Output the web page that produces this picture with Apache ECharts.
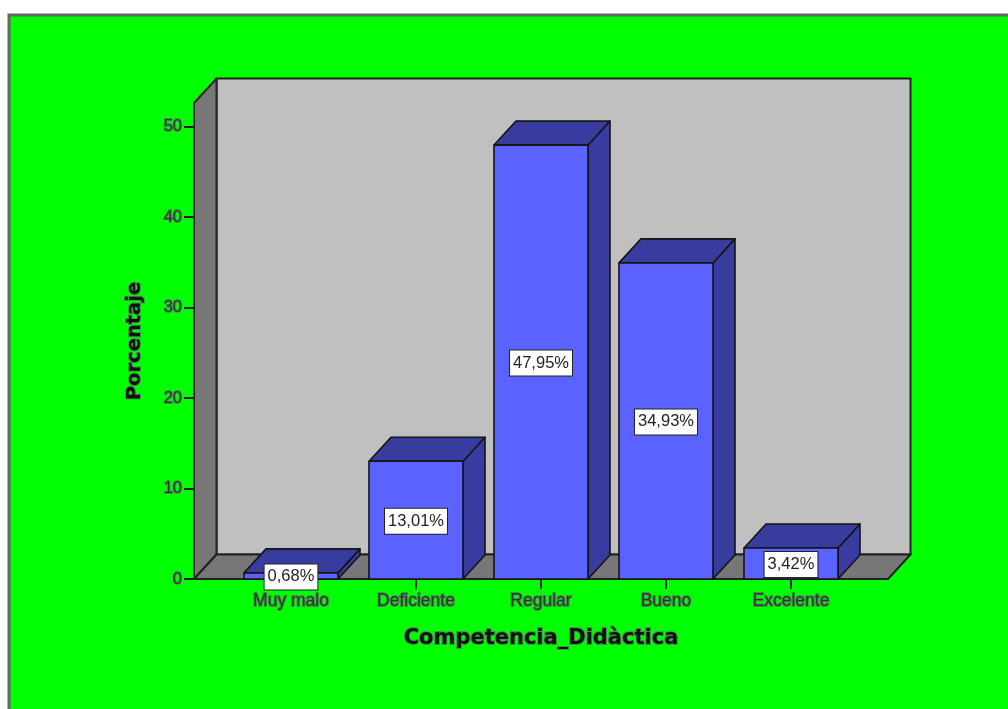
<!DOCTYPE html>
<html><head><meta charset="utf-8">
<style>html,body{margin:0;padding:0;background:#fff}#c{width:1008px;height:709px}</style>
<script src="https://cdn.jsdelivr.net/npm/echarts@6/dist/echarts.min.js"></script>
</head><body><div id="c"></div>
<script>
const categories = ['Muy malo','Deficiente','Regular','Bueno','Excelente'];
const percentages = [0.68,13.01,47.95,34.93,3.42];
const yTicks = [0,10,20,30,40,50];
const yMax = 52.6;
const xName = 'Competencia_Didàctica';
const yName = 'Porcentaje';

const GL = 228.5, GT = 103, GW = 625, GH = 476;
const DX = 22.5, DY = -24.5, PADX = 34.5;
const halo = {textBorderColor:'rgba(95,90,110,0.6)', textBorderWidth:2};
const line = '#222';

const chart = echarts.init(document.getElementById('c'));
chart.setOption({
  animation:false,
  backgroundColor:'#fff',
  graphic:[{type:'rect',z:-10,shape:{x:9,y:15,width:1010,height:710},
    style:{fill:'#00ff00',stroke:'#666',lineWidth:3}}],
  grid:{left:GL,top:GT,width:GW,height:GH},
  xAxis:{type:'category',data:categories,boundaryGap:true,
    name:xName,nameLocation:'middle',nameGap:49,
    nameTextStyle:{fontFamily:'DejaVu Sans',fontWeight:'bold',fontSize:21,color:'#111',...halo},
    axisLine:{show:false},
    axisTick:{show:true,alignWithLabel:true,length:10,lineStyle:{color:line,width:2}},
    axisLabel:{fontFamily:'Liberation Sans',fontSize:17.5,color:'#333',margin:13,interval:0,...halo}},
  yAxis:{type:'value',min:0,max:yMax,interval:10,offset:PADX,
    name:yName,nameLocation:'middle',nameGap:49,nameRotate:90,
    nameTextStyle:{fontFamily:'DejaVu Sans',fontWeight:'bold',fontSize:19.5,color:'#111',...halo},
    splitLine:{show:false},
    axisLine:{show:true,lineStyle:{color:line,width:2}},
    axisTick:{show:true,length:10,customValues:yTicks,lineStyle:{color:line,width:2}},
    axisLabel:{fontFamily:'Liberation Sans',fontSize:16.5,color:'#333',margin:12,customValues:yTicks,padding:[6,0,0,0],...halo}},
  series:[
    {type:'custom',z:1,silent:true,data:[[0,0]],
     renderItem(params,api){
       const c=params.coordSys, l=c.x-PADX, t=c.y, b=c.y+c.height;
       const R=888;
       const s=(fill,pts)=>({type:'polygon',shape:{points:pts},style:{fill,stroke:line,lineWidth:2,lineJoin:'round'}});
       return {type:'group',children:[
         s('#c0c0c0',[[l+DX,t+DY],[R+DX,t+DY],[R+DX,b+DY],[l+DX,b+DY]]),
         s('#777777',[[l,t],[l+DX,t+DY],[l+DX,b+DY],[l,b]]),
         s('#777777',[[l,b],[l+DX,b+DY],[R+DX,b+DY],[R,b]])
       ]};
     }},
    {type:'custom',z:3,silent:true,encode:{x:0,y:1},
     data:percentages.map((v,i)=>[i,v]),
     renderItem(params,api){
       const p=api.coord([api.value(0),api.value(1)]), o=api.coord([api.value(0),0]);
       const w=api.size([1,0])[0]*0.752, x=p[0]-w/2, y=p[1], x2=x+w, b=o[1];
       const dx=22,dy=-24;
       const st=fill=>({fill,stroke:'#151515',lineWidth:1.6,lineJoin:'round'});
       const poly=(fill,pts)=>({type:'polygon',shape:{points:pts},style:st(fill)});
       return {type:'group',children:[
         poly('#383c9e',[[x2,y],[x2+dx,y+dy],[x2+dx,b+dy],[x2,b]]),
         poly('#383c9e',[[x,y],[x+dx,y+dy],[x2+dx,y+dy],[x2,y]]),
         poly('#5a62ff',[[x,y],[x2,y],[x2,b],[x,b]])
       ]};
     }},
    {type:'custom',z:5,silent:true,encode:{x:0,y:1},
     data:percentages.map((v,i)=>[i,v]),
     renderItem(params,api){
       const v=api.value(1), p=api.coord([api.value(0),v/2]);
       return {type:'text',style:{x:p[0],y:p[1]+1,text:v.toFixed(2).replace('.',',')+'%',
         align:'center',verticalAlign:'middle',fill:'#222',
         font:'16.5px "Liberation Sans"',backgroundColor:'#fff',
         borderColor:'#222',borderWidth:1,padding:[4,3,4,3]}};
     }}
  ]
});
</script></body></html>
